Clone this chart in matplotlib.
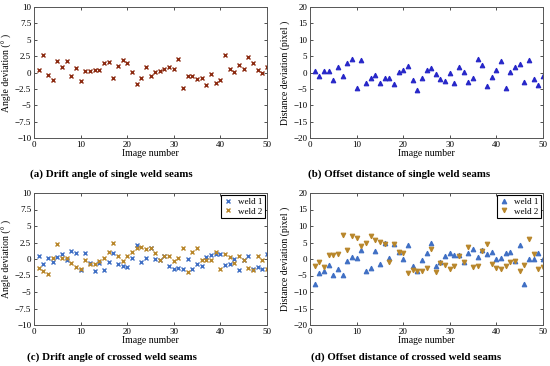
import numpy as np
import matplotlib
matplotlib.use('Agg')
import matplotlib.pyplot as plt

plt.rcParams['font.family'] = 'Liberation Serif'

# image index, shared by all panels
img = np.arange(1, 51)

# (a) drift angle, single seams
ang_single = [0.4, 2.6, -0.4, -1.2, 1.7, 0.8, 1.8, -0.5, 0.7, -1.3,
              0.2, 0.2, 0.4, 0.4, 1.4, 1.6, -0.8, 1.0, 1.9, 1.5,
              0.1, -1.7, -0.9, 0.9, -0.5, 0.1, 0.3, 0.5, 0.9, 0.6,
              2.0, -2.4, -0.6, -0.6, -1.0, -0.9, -1.9, -0.3, -1.6, -1.2,
              2.7, 0.6, 0.1, 1.2, 0.6, 2.4, 1.5, 0.4, 0.0, 0.9]

# (b) offset distance, single seams
dist_single = [0.6, -1.1, 0.5, 0.5, -2.2, 1.6, -1.0, 3.0, 4.1, -4.6,
               3.8, -3.1, -1.8, -0.8, -3.2, -1.6, -1.7, -3.5, 0.1, 0.7,
               2.0, -2.2, -5.4, -1.6, 0.9, 1.3, -0.5, -1.9, -2.6, -0.1,
               -3.2, 1.6, 0.1, -3.0, -1.8, 4.1, 2.3, -4.2, -1.4, 0.7,
               3.5, -4.6, 0.1, 1.7, 2.6, -2.9, 3.9, -2.0, -3.9, -1.2]

# (c) drift angle, crossed seams
ang_w1 = [0.4, -0.7, 0.1, -0.5, 0.3, 0.8, -0.2, 1.2, 0.9, -1.7,
          0.9, -0.6, -1.8, -0.6, -1.7, -0.5, 0.9, -0.8, -1.0, -1.2,
          0.1, 2.1, -0.4, 0.2, 1.7, 0.0, -0.1, 0.4, -1.1, -1.5,
          -1.3, -1.5, 0.0, -1.5, -0.7, -1.0, 0.3, 0.6, 0.7, 0.8,
          -0.9, -0.7, 0.0, -1.6, -0.2, 0.4, -1.5, -1.2, -1.5, 0.8]
ang_w2 = [-1.4, -1.8, -2.2, 0.1, 2.2, 0.2, 0.2, -0.6, -1.2, -1.5,
          -0.1, -0.8, -0.8, -0.3, 0.1, 1.0, 2.4, 0.5, -0.3, 0.5,
          1.0, 1.6, 1.8, 1.5, 1.7, 0.9, -0.2, 0.4, 0.5, -0.3,
          0.2, 1.7, -1.9, 1.0, 1.6, -0.1, -0.2, -0.2, 1.1, -1.5,
          0.8, 0.3, -0.6, 0.5, -0.1, -1.3, -1.7, 0.5, -0.2, -1.5]

# (d) offset distance, crossed seams
dist_w1 = [-7.6, -4.3, -3.5, -1.8, -4.7, -2.9, -4.9, -0.6, 0.6, 0.2,
           2.6, -3.5, -2.6, 2.3, -1.5, 4.7, 0.4, 4.6, 2.1, 0.0,
           4.3, -2.1, -3.6, -0.4, 1.8, 5.0, -2.2, -0.8, 1.0, 1.8,
           1.3, 1.2, -0.9, 1.7, 2.9, 0.5, 2.7, 1.4, 2.0, 0.1,
           0.4, 1.8, 2.0, -0.6, 4.3, -7.6, 0.1, 0.0, 1.8, 0.0]
dist_w2 = [-2.1, -0.9, -2.5, 1.2, 1.2, 1.5, 7.2, 2.8, 7.0, 6.3,
           4.0, 4.8, 7.0, 5.8, 5.3, 4.6, -0.8, 4.6, 2.0, 1.7,
           -4.2, -3.3, -3.7, -3.6, -2.6, 2.9, -3.9, -1.3, -1.8, -3.0,
           -2.1, 1.0, -0.9, 3.5, -2.4, -2.1, 2.5, 4.5, -1.5, -2.6,
           -2.9, -2.0, -0.8, -0.7, -3.6, -1.9, 6.2, 1.6, -3.1, -2.5]

c_red = '#8b2a10'
c_blue = '#2626c8'
c_w1 = '#3f6fc4'
c_w2 = '#b8862a'

fig = plt.figure(figsize=(5.5, 3.66), dpi=100)
W, H = 550.0, 366.0

def make_ax(x0, x1, y0, y1):
    ax = fig.add_axes([x0 / W, 1 - y1 / H, (x1 - x0) / W, (y1 - y0) / H])
    ax.tick_params(direction='in', top=True, right=True, labelsize=6.5,
                   length=2.5, width=0.6, color='#333333', pad=2)
    for s in ax.spines.values():
        s.set_linewidth(0.7)
        s.set_color('#555555')
    ax.set_xlim(0, 50)
    ax.set_xticks([0, 10, 20, 30, 40, 50])
    ax.set_xlabel('Image number', fontsize=7, labelpad=0)
    return ax

ang_ticks = [-10, -7.5, -5, -2.5, 0, 2.5, 5, 7.5, 10]
ang_lbls = ['\u221210', '\u22127.5', '\u22125', '\u22122.5', '0', '2.5', '5', '7.5', '10']
dist_ticks = [-20, -15, -10, -5, 0, 5, 10, 15, 20]
dist_lbls = ['\u221220', '\u221215', '\u221210', '\u22125', '0', '5', '10', '15', '20']

def angle_axis(ax):
    ax.set_ylim(-10, 10)
    ax.set_yticks(ang_ticks)
    ax.set_yticklabels(ang_lbls)
    ax.set_ylabel('Angle deviation (\u00b0 )', fontsize=7, labelpad=2)

def dist_axis(ax):
    ax.set_ylim(-20, 20)
    ax.set_yticks(dist_ticks)
    ax.set_yticklabels(dist_lbls)
    ax.set_ylabel('Distance deviation (pixel )', fontsize=7, labelpad=2)

def add_legend(ax):
    leg = ax.legend(loc='upper right', fontsize=6.5, handlelength=1.0,
                    handletextpad=0.6, borderpad=0.25, labelspacing=0.15,
                    fancybox=False, framealpha=1, borderaxespad=0.25)
    leg.get_frame().set_edgecolor('black')
    leg.get_frame().set_linewidth(0.8)

# (a)
ax = make_ax(34, 267, 7, 138)
ax.plot(img, ang_single, 'x', color=c_red, ms=3.2, mew=1.0)
angle_axis(ax)

# (b)
ax = make_ax(310, 543, 7, 138)
ax.plot(img, dist_single, '^', color=c_blue, mfc=c_blue, ms=3.3, mew=0.8)
dist_axis(ax)

# (c)
ax = make_ax(34, 267, 193, 325)
ax.plot(img, ang_w1, 'x', color=c_w1, ms=3.2, mew=1.0, label='weld 1')
ax.plot(img, ang_w2, 'x', color=c_w2, ms=3.2, mew=1.0, label='weld 2')
angle_axis(ax)
add_legend(ax)

# (d)
ax = make_ax(310, 543, 193, 325)
ax.plot(img, dist_w1, '^', color=c_w1, ms=3.3, mew=0.8, label='weld 1')
ax.plot(img, dist_w2, 'v', color=c_w2, ms=3.3, mew=0.8, label='weld 2')
dist_axis(ax)
add_legend(ax)

# captions
cap = dict(fontsize=7.8, fontweight='bold', va='center', ha='left')
fig.text(30 / W, 1 - 174 / H, '(a) Drift angle of single weld seams', **cap)
fig.text(308 / W, 1 - 174 / H, '(b) Offset distance of single weld seams', **cap)
fig.text(27 / W, 1 - 357 / H, '(c) Drift angle of crossed weld seams', **cap)
fig.text(311 / W, 1 - 357 / H, '(d) Offset distance of crossed weld seams', **cap)

fig.savefig('out.png', dpi=100)
